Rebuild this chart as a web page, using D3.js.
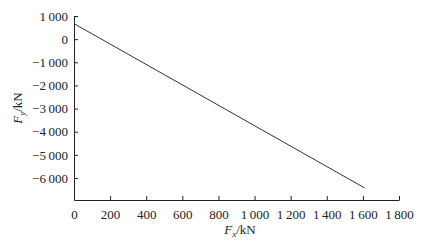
<!DOCTYPE html>
<html><head><meta charset="utf-8">
<script src="https://cdn.jsdelivr.net/npm/d3@7"></script>
<style>body{margin:0;background:#fff}svg{display:block}text{font-family:"Liberation Serif","DejaVu Serif",serif}</style>
</head><body>
<svg id="c" width="431" height="246"></svg>
<script>
const fx = [0, 1610];
const fy = [670, -6430];
const xTicks = [0,200,400,600,800,1000,1200,1400,1600,1800];
const yTicks = [1000,0,-1000,-2000,-3000,-4000,-5000,-6000];

const svg = d3.select("#c");
const x = d3.scaleLinear().domain([0,1800]).range([74,399]);
const y = d3.scaleLinear().domain([1000,-6950]).range([16,200]);
const fmt = v => { const s = Math.abs(v).toString().replace(/\B(?=(\d{3})+(?!\d))/g, "\u2009"); return (v<0?"\u2212":"") + s; };

const gx = svg.append("g").attr("transform","translate(0,200)")
  .call(d3.axisBottom(x).tickValues(xTicks).tickSizeInner(-4).tickSizeOuter(0).tickPadding(10).tickFormat(fmt));
const gy = svg.append("g").attr("transform","translate(74,0)")
  .call(d3.axisLeft(y).tickValues(yTicks).tickSizeInner(-4).tickSizeOuter(0).tickPadding(6).tickFormat(fmt));
[gx,gy].forEach(g=>{
  g.selectAll("path,line").attr("stroke","#222").attr("stroke-width",1);
  g.selectAll("text").attr("font-size",13).attr("fill","#222").attr("font-family","Liberation Serif");
});

svg.append("path").datum(fx.map((d,i)=>[d,fy[i]]))
  .attr("d", d3.line().x(d=>x(d[0])).y(d=>y(d[1])))
  .attr("fill","none").attr("stroke","#333").attr("stroke-width",1);

const xl = svg.append("text").attr("x",240).attr("y",234).attr("text-anchor","middle").attr("font-size",13).attr("fill","#222");
xl.append("tspan").attr("font-style","italic").text("F");
xl.append("tspan").attr("font-style","italic").attr("font-size",9).attr("dy",3).text("x");
xl.append("tspan").attr("dy",-3).text("/kN");

const yl = svg.append("text").attr("transform","translate(22,108) rotate(-90)").attr("text-anchor","middle").attr("font-size",13).attr("fill","#222");
yl.append("tspan").attr("font-style","italic").text("F");
yl.append("tspan").attr("font-style","italic").attr("font-size",9).attr("dy",3).text("y");
yl.append("tspan").attr("dy",-3).text("/kN");
</script>
</body></html>
